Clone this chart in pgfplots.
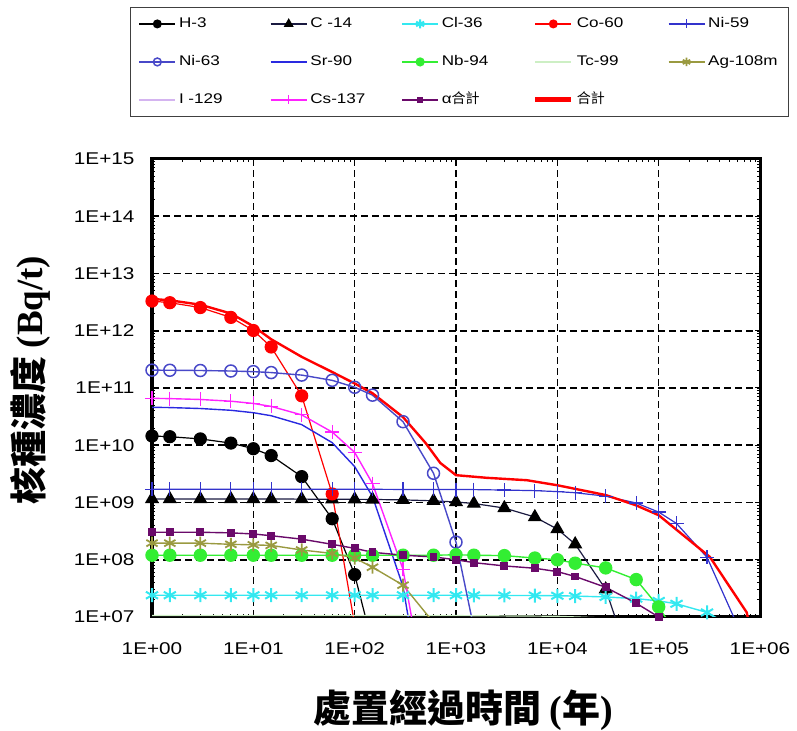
\documentclass[border=0pt]{standalone}
\usepackage{fontspec}
\usepackage{pgfplots}
\pgfplotsset{compat=1.18}
\setmainfont{Liberation Sans}
\newfontfamily\tickfont[FakeStretch=1.22]{Liberation Sans}
\newfontfamily\cjk{Noto Sans CJK TC}
\newfontfamily\serifb{Liberation Serif}
\definecolor{cClThirtySix}{HTML}{33E8F0}
\definecolor{cNiFiftyNine}{HTML}{3333CC}
\definecolor{cNiSixtyThree}{HTML}{4848C8}
\definecolor{cSr}{HTML}{2A2AE0}
\definecolor{cNb}{HTML}{33EE33}
\definecolor{cTc}{HTML}{CDEFC4}
\definecolor{cAg}{HTML}{9A9A40}
\definecolor{cI}{HTML}{D4B4F0}
\definecolor{cCs}{HTML}{FF22FF}
\definecolor{cAlpha}{HTML}{6A0A6A}
\definecolor{cC}{HTML}{1A1A40}
\begin{document}
\begin{tikzpicture}
\useasboundingbox (0,0) rectangle (797bp,731bp);
\begin{axis}[
  at={(152bp,114bp)}, anchor=south west,
  width=608bp, height=458bp, scale only axis,
  xmode=log, ymode=log,
  xmin=1, xmax=1e6, ymin=1e7, ymax=1e15,
  xtick={1,10,100,1000,10000,100000,1000000},
  xticklabels={1E+00,1E+01,1E+02,1E+03,1E+04,1E+05,1E+06},
  ytick={1e7,1e8,1e9,1e10,1e11,1e12,1e13,1e14,1e15},
  yticklabels={1E+07,1E+08,1E+09,1E+10,1E+11,1E+12,1E+13,1E+14,1E+15},
  minor xtick={}, minor ytick={},
  xmajorgrids=true, ymajorgrids=true,
  grid style={black, line width=1.6bp, dash pattern=on 7bp off 4bp},
  major grid style={black, line width=1.6bp, dash pattern=on 7bp off 4bp},
  axis line style={line width=3bp, black},
  tick style={black, line width=1bp}, major tick length=5bp, tick align=inside,
  xticklabel style={font=\tickfont\fontsize{17bp}{17bp}\selectfont, yshift=-22bp},
  yticklabel style={font=\tickfont\fontsize{17bp}{17bp}\selectfont, xshift=-14bp},
  ylabel={\cjk\bfseries 核種濃度 {\serifb\bfseries (Bq/t)}},
  ylabel style={at={(axis description cs:-0.2,0.517)}, anchor=center, font=\fontsize{37bp}{37bp}\selectfont},
  xlabel={\cjk\bfseries 處置經過時間 {\serifb\bfseries (}年{\serifb\bfseries )}},
  xlabel style={at={(axis description cs:0.512,-0.203)}, anchor=center, font=\fontsize{38bp}{38bp}\selectfont},
  legend columns=5,
  legend cell align=left,
  legend style={at={(axis description cs:-0.036,1.332)}, anchor=north west,
    draw=black!75, line width=1bp, fill=white,
    font=\tickfont\fontsize{14bp}{16bp}\selectfont,
    inner xsep=8bp, inner ysep=10bp, row sep=25bp, column sep=0bp,
    nodes={inner xsep=3bp, inner ysep=0bp, text height=10bp, text depth=3bp}},
  legend image code/.code={\draw[mark repeat=2,mark phase=2,#1] plot coordinates {(0bp,0bp) (18bp,0bp) (36bp,0bp)};},
  legend image post style={/tikz/every mark/.append style={scale=0.65}},
]
% H-3
\addplot[black, line width=1.2bp, mark=*, mark size=6bp, mark options={solid, fill=black}] coordinates {
(1,1.45e10)(1.5,1.41e10)(3,1.29e10)(6,1.09e10)(10,8.7e9)(15,6.6e9)(30,2.83e9)(60,5.2e8)(100,5.5e7)(150,3.3e6)};
\addlegendentry{\makebox[88bp][l]{H-3}}
% C-14
\addplot[cC, line width=1.2bp, mark=triangle*, mark size=7bp, mark options={solid, fill=black, draw=black}] coordinates {
(1,1.15e9)(1.5,1.15e9)(3,1.15e9)(6,1.15e9)(10,1.15e9)(15,1.15e9)(30,1.145e9)(60,1.14e9)(100,1.136e9)(150,1.13e9)(300,1.11e9)(600,1.07e9)(1000,1.02e9)(1500,9.6e8)(3000,8.0e8)(6000,5.57e8)(10000,3.43e8)(15000,1.87e8)(30000,3.05e7)(60000,8.1e5)};
\addlegendentry{\makebox[88bp][l]{C -14}}
% Cl-36
\addplot[cClThirtySix, line width=1.4bp, mark=asterisk, mark size=7bp, mark options={solid, line width=2bp}] coordinates {
(1,2.4e7)(1.5,2.4e7)(3,2.4e7)(6,2.4e7)(10,2.4e7)(15,2.4e7)(30,2.4e7)(60,2.4e7)(100,2.4e7)(150,2.4e7)(300,2.4e7)(600,2.4e7)(1000,2.4e7)(1500,2.39e7)(3000,2.38e7)(6000,2.37e7)(10000,2.35e7)(15000,2.32e7)(30000,2.24e7)(60000,2.09e7)(100000,1.91e7)(150000,1.70e7)(300000,1.2e7)(600000,6.0e6)};
\addlegendentry{\makebox[88bp][l]{Cl-36}}
% Co-60
\addplot[red, line width=1.2bp, mark=*, mark size=6bp, mark options={solid, fill=red}] coordinates {
(1,3.3e12)(1.5,3.09e12)(3,2.54e12)(6,1.71e12)(10,1.01e12)(15,5.2e11)(30,7.3e10)(60,1.41e9)(100,7.3e6)};
\addlegendentry{\makebox[88bp][l]{Co-60}}
% Ni-59
\addplot[cNiFiftyNine, line width=1.2bp, mark=+, mark size=7bp, mark options={solid, line width=1.2bp}] coordinates {
(1,1.7e9)(1.5,1.7e9)(3,1.7e9)(6,1.7e9)(10,1.7e9)(15,1.7e9)(30,1.7e9)(60,1.7e9)(100,1.7e9)(150,1.7e9)(300,1.69e9)(600,1.69e9)(1000,1.685e9)(1500,1.68e9)(3000,1.65e9)(6000,1.61e9)(10000,1.55e9)(15000,1.48e9)(30000,1.29e9)(60000,9.8e8)(100000,6.8e8)(150000,4.3e8)(300000,1.1e8)(600000,7.1e6)};
\addlegendentry{Ni-59}
% Ni-63
\addplot[cNiSixtyThree, line width=1.4bp, mark=o, mark size=6bp, mark options={solid, line width=1.5bp}] coordinates {
(1,2.05e11)(1.5,2.04e11)(3,2.02e11)(6,1.98e11)(10,1.93e11)(15,1.86e11)(30,1.68e11)(60,1.36e11)(100,1.03e11)(150,7.5e10)(300,2.58e10)(600,3.24e9)(1000,2.03e8)(1500,6.4e6)};
\addlegendentry{\makebox[88bp][l]{Ni-63}}
% Sr-90
\addplot[cSr, line width=1.4bp] coordinates {
(1,4.6e10)(1.5,4.55e10)(3,4.38e10)(6,4.08e10)(10,3.70e10)(15,3.28e10)(30,2.29e10)(60,1.11e10)(100,4.24e9)(150,1.27e9)(300,3.4e7)(600,2.5e4)};
\addlegendentry{\makebox[88bp][l]{Sr-90}}
% Nb-94
\addplot[cNb, line width=1.4bp, mark=*, mark size=6bp, mark options={solid, fill=cNb}] coordinates {
(1,1.2e8)(1.5,1.2e8)(3,1.2e8)(6,1.2e8)(10,1.2e8)(15,1.2e8)(30,1.2e8)(60,1.2e8)(100,1.2e8)(150,1.2e8)(300,1.2e8)(600,1.2e8)(1000,1.22e8)(1500,1.2e8)(3000,1.18e8)(6000,1.07e8)(10000,1.0e8)(15000,8.7e7)(30000,7.2e7)(60000,4.5e7)(100000,1.5e7)(150000,5e6)};
\addlegendentry{\makebox[88bp][l]{Nb-94}}
% Tc-99
\addplot[cTc, line width=1.2bp] coordinates {
(1,1.06e7)(10,1.06e7)(100,1.06e7)(1000,1.06e7)(10000,1.03e7)(30000,9.6e6)(100000,7.6e6)(300000,4e6)};
\addlegendentry{\makebox[88bp][l]{Tc-99}}
% Ag-108m
\addplot[cAg, line width=1.4bp, mark=asterisk, mark size=6.5bp, mark options={solid, line width=1.8bp}] coordinates {
(1,1.95e8)(1.5,1.95e8)(3,1.95e8)(6,1.86e8)(10,1.82e8)(15,1.78e8)(30,1.48e8)(60,1.29e8)(100,1.07e8)(150,7.4e7)(300,3.6e7)(600,8e6)};
\addlegendentry{Ag-108m}
% I-129
\addplot[cI, line width=1.2bp] coordinates {
(1,5e6)(100,5e6)(10000,5e6)(1000000,4.8e6)};
\addlegendentry{\makebox[88bp][l]{I -129}}
% Cs-137
\addplot[cCs, line width=1.4bp, mark=+, mark size=7bp, mark options={solid, line width=1.2bp}] coordinates {
(1,6.6e10)(1.5,6.52e10)(3,6.30e10)(6,5.88e10)(10,5.37e10)(15,4.77e10)(30,3.39e10)(60,1.70e10)(100,7.5e9)(150,2.14e9)(300,6.8e7)(600,7e4)};
\addlegendentry{\makebox[88bp][l]{Cs-137}}
% alpha total
\addplot[cAlpha, line width=1.4bp, mark=square*, mark size=3.2bp, mark options={solid, fill=cAlpha}] coordinates {
(1,3.02e8)(1.5,3.02e8)(3,3.02e8)(6,2.95e8)(10,2.82e8)(15,2.63e8)(30,2.29e8)(60,1.86e8)(100,1.58e8)(150,1.35e8)(300,1.20e8)(600,1.12e8)(1000,1.0e8)(1500,8.9e7)(3000,7.8e7)(6000,7.1e7)(10000,6.2e7)(15000,5.1e7)(30000,3.3e7)(60000,1.74e7)(100000,1.0e7)(150000,4e6)};
\addlegendentry{\makebox[88bp][l]{α{\cjk 合計}}}
% total
\addplot[red, line width=2.4bp, legend image post style={line width=5bp}] coordinates {
(1,3.6e12)(1.5,3.4e12)(3,2.85e12)(6,2.0e12)(10,1.2e12)(15,7.1e11)(30,3.5e11)(60,1.9e11)(100,1.2e11)(150,8.1e10)(300,3.1e10)(500,1.1e10)(700,4.9e9)(1000,3.0e9)(2000,2.7e9)(5000,2.45e9)(10000,2.0e9)(30000,1.35e9)(60000,8.9e8)(100000,6.0e8)(320000,1.12e8)(740000,1.2e7)(800000,6e6)};
\addlegendentry{\makebox[88bp][l]{\cjk 合計}}
\end{axis}
\end{tikzpicture}
\end{document}
